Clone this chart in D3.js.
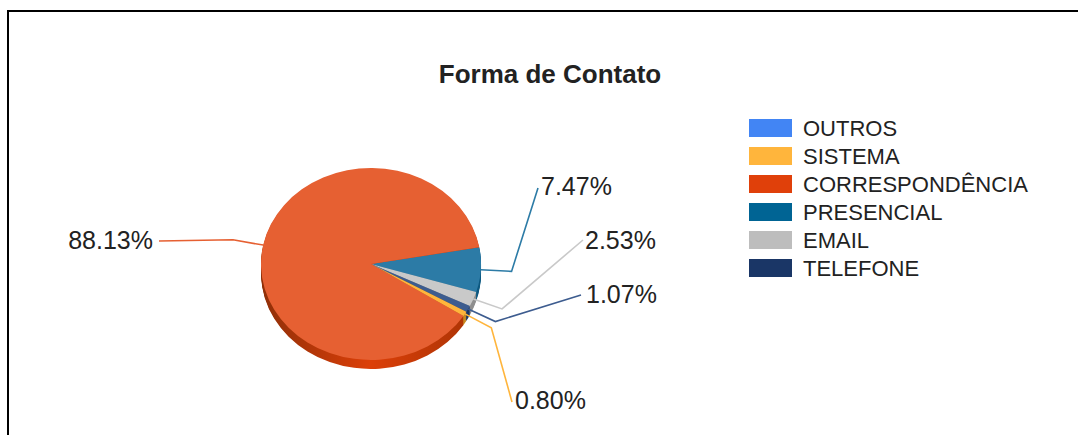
<!DOCTYPE html>
<html>
<head>
<meta charset="utf-8">
<script src="https://cdn.jsdelivr.net/npm/d3@7"></script>
<style>
    html, body { margin: 0; padding: 0; background: #fff; }
    svg { display: block; }
    text { font-family: "Liberation Sans", Arial, sans-serif; fill: #222; }
    .pie { filter: blur(0.4px); }
</style>
</head>
<body>
<svg id="chart" width="1078" height="435"></svg>
<script>
const categories = ['OUTROS', 'SISTEMA', 'CORRESPONDÊNCIA', 'PRESENCIAL', 'EMAIL', 'TELEFONE'];
const shares = [0, 0.80, 88.13, 7.47, 2.53, 1.07];
const shareLabels = ['', '0.80%', '88.13%', '7.47%', '2.53%', '1.07%'];
// order of the slices clockwise, starting at the top of the presencial slice
const sliceOrder = ['PRESENCIAL', 'EMAIL', 'TELEFONE', 'SISTEMA', 'CORRESPONDÊNCIA', 'OUTROS'];
const legendColors = ['#4285f4', '#ffb53c', '#e0400a', '#006494', '#bdbdbd', '#1a3666'];
const topColors = ['#5b95f5', '#ffb53c', '#e66032', '#2c7ba6', '#c9c9c9', '#3d5c8f'];
const sideColors = ['#2f66c0', '#c98a20', '#c43a08', '#0f5a82', '#8f8f8f', '#1a3666'];

const width = 1078;
const height = 435;
const pieBox = { cx: 371, cy: 264, rx: 110, ry: 96, depth: 9 };
const startAngle = 80 * Math.PI / 180;
const elbowFactor = 1.28;
// where each leader line ends and its label sits
const labelAt = {
    'PRESENCIAL': { x: 538, y: 188, tx: 541, ty: 195, anchor: 'start' },
    'EMAIL': { x: 583, y: 240, tx: 585, ty: 249, anchor: 'start' },
    'TELEFONE': { x: 581, y: 295, tx: 586, ty: 303, anchor: 'start' },
    'SISTEMA': { x: 512, y: 402, tx: 515, ty: 409, anchor: 'start' },
    'CORRESPONDÊNCIA': { x: 159, y: 241, tx: 153, ty: 249, anchor: 'end' }
};

const svg = d3.select('#chart');

// page frame, open at the bottom
svg.append('path')
    .attr('d', d3.line()([[8, height], [8, 11], [width, 11]]))
    .attr('fill', 'none')
    .attr('stroke', '#000')
    .attr('stroke-width', 2);

svg.append('text')
    .attr('x', 550)
    .attr('y', 83)
    .attr('text-anchor', 'middle')
    .attr('font-size', 26)
    .attr('font-weight', 'bold')
    .text('Forma de Contato');

const color = d3.scaleOrdinal().domain(categories).range(legendColors);
const topColor = d3.scaleOrdinal().domain(categories).range(topColors);
const sideColor = d3.scaleOrdinal().domain(categories).range(sideColors);
const shareOf = new Map(categories.map((c, i) => [c, shares[i]]));
const labelOf = new Map(categories.map((c, i) => [c, shareLabels[i]]));

const pie = d3.pie()
    .sort(null)
    .value(d => shareOf.get(d))
    .startAngle(startAngle)
    .endAngle(startAngle + 2 * Math.PI);
const slices = pie(sliceOrder).filter(d => d.value > 0);

// the circle is squashed to an ellipse by the group transform
const arc = d3.arc().innerRadius(0).outerRadius(pieBox.rx);
const squash = pieBox.ry / pieBox.rx;

const defs = svg.append('defs');
const sideGrad = defs.append('linearGradient').attr('id', 'side-shade');
sideGrad.append('stop').attr('offset', '0%').attr('stop-color', '#8f2f08');
sideGrad.append('stop').attr('offset', '50%').attr('stop-color', '#dc3f08');
sideGrad.append('stop').attr('offset', '100%').attr('stop-color', '#a83305');

const pieG = svg.append('g').attr('class', 'pie');

d3.range(pieBox.depth, 0, -1).forEach(offset => {
    pieG.append('g')
        .attr('transform', `translate(${pieBox.cx},${pieBox.cy + offset}) scale(1,${squash})`)
        .selectAll('path')
        .data(slices)
        .join('path')
        .attr('d', arc)
        .attr('fill', d => d.data === 'CORRESPONDÊNCIA' ? 'url(#side-shade)' : sideColor(d.data));
});

pieG.append('g')
    .attr('transform', `translate(${pieBox.cx},${pieBox.cy}) scale(1,${squash})`)
    .selectAll('path')
    .data(slices)
    .join('path')
    .attr('d', arc)
    .attr('fill', d => topColor(d.data));

// leader lines, rim -> elbow -> label
const midPoint = (d, factor) => {
    const a = (d.startAngle + d.endAngle) / 2;
    return [
        pieBox.cx + pieBox.rx * factor * Math.sin(a),
        pieBox.cy - pieBox.ry * factor * Math.cos(a)
    ];
};

svg.append('g')
    .selectAll('path')
    .data(slices)
    .join('path')
    .attr('d', d => d3.line()([
        midPoint(d, 1),
        midPoint(d, elbowFactor),
        [labelAt[d.data].x, labelAt[d.data].y]
    ]))
    .attr('fill', 'none')
    .attr('stroke', d => topColor(d.data))
    .attr('stroke-width', 1.6);

svg.append('g')
    .selectAll('text')
    .data(slices)
    .join('text')
    .attr('x', d => labelAt[d.data].tx)
    .attr('y', d => labelAt[d.data].ty)
    .attr('text-anchor', d => labelAt[d.data].anchor)
    .attr('font-size', 25)
    .text(d => labelOf.get(d.data));

// legend
const legendY = d3.scalePoint().domain(categories).range([128, 268]);
const legend = svg.append('g')
    .selectAll('g')
    .data(categories)
    .join('g')
    .attr('transform', d => `translate(749,${legendY(d)})`);

legend.append('rect')
    .attr('y', -9)
    .attr('width', 43)
    .attr('height', 18)
    .attr('fill', d => color(d));

legend.append('text')
    .attr('x', 54)
    .attr('y', 8)
    .attr('font-size', 22)
    .text(d => d);
</script>
</body>
</html>
